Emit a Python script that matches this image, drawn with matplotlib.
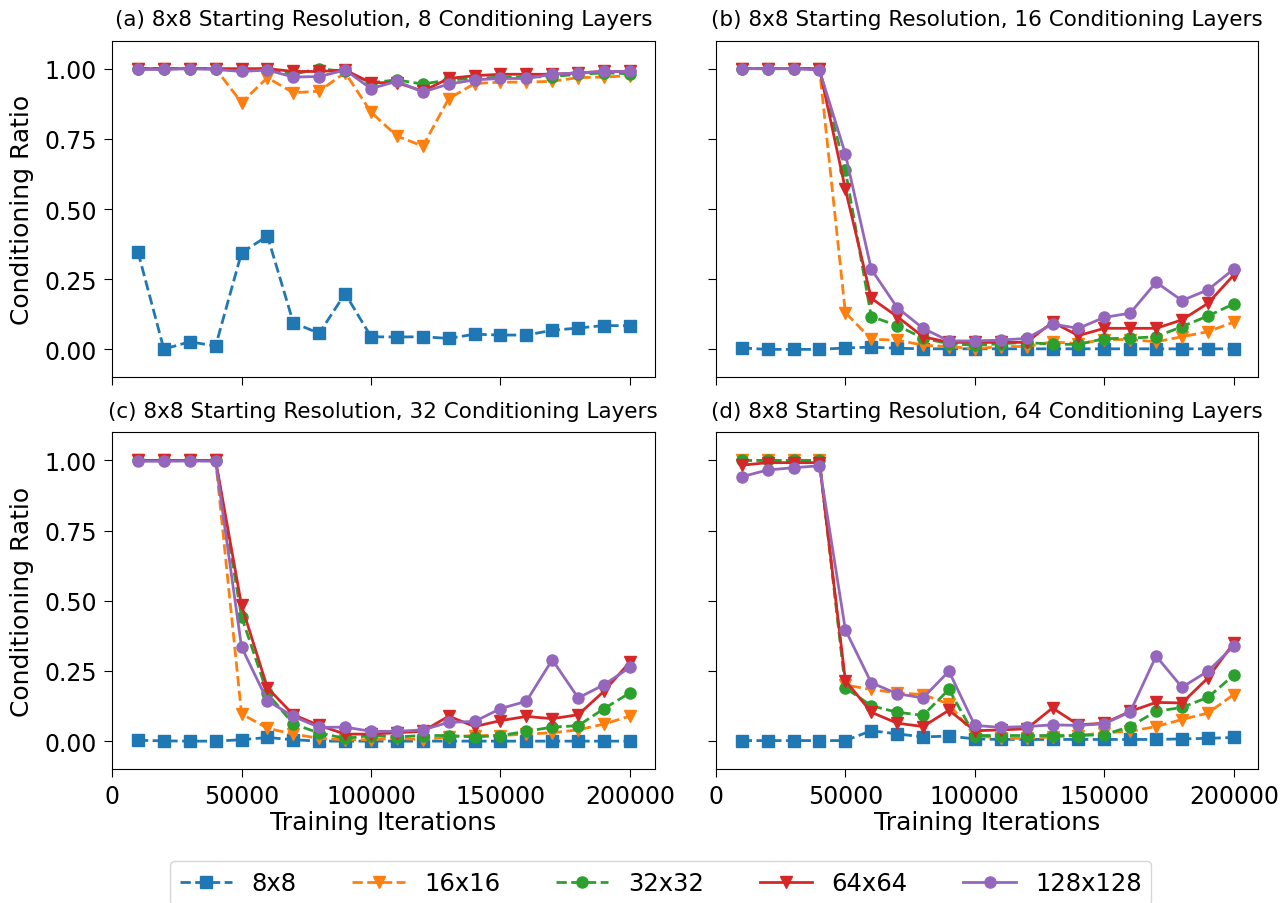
import matplotlib
matplotlib.use("Agg")
import matplotlib.pyplot as plt
import numpy as np

iterations = list(range(10000, 200001, 10000))

series_names = ["8x8", "16x16", "32x32", "64x64", "128x128"]

# (a) 8 conditioning layers
a_8 = [0.347, 0.001, 0.027, 0.012, 0.344, 0.404, 0.095, 0.057, 0.199, 0.045,
       0.044, 0.045, 0.039, 0.054, 0.051, 0.051, 0.068, 0.076, 0.085, 0.084]
a_16 = [1.0, 1.0, 1.0, 1.0, 0.879, 0.968, 0.914, 0.920, 0.986, 0.845,
        0.760, 0.724, 0.893, 0.947, 0.952, 0.952, 0.955, 0.968, 0.970, 0.975]
a_32 = [1.0, 1.0, 1.0, 1.0, 0.995, 1.0, 0.980, 1.0, 0.990, 0.950,
        0.960, 0.945, 0.960, 0.965, 0.970, 0.970, 0.972, 0.980, 0.985, 0.982]
a_64 = [1.0, 1.0, 1.0, 1.0, 1.0, 1.0, 0.990, 0.990, 0.995, 0.950,
        0.950, 0.920, 0.965, 0.975, 0.980, 0.980, 0.980, 0.985, 0.990, 0.990]
a_128 = [0.997, 0.997, 1.0, 0.997, 0.990, 0.995, 0.970, 0.972, 0.995, 0.929,
         0.955, 0.917, 0.945, 0.960, 0.965, 0.965, 0.980, 0.985, 0.990, 0.990]

# (b) 16 conditioning layers
b_8 = [0.005, 0.0, 0.0, 0.0, 0.005, 0.008, 0.004, 0.002, 0.002, 0.002,
       0.002, 0.002, 0.002, 0.002, 0.002, 0.002, 0.002, 0.002, 0.002, 0.002]
b_16 = [1.0, 1.0, 1.0, 1.0, 0.131, 0.036, 0.033, 0.015, 0.010, 0.002,
        0.010, 0.010, 0.027, 0.020, 0.035, 0.035, 0.027, 0.045, 0.063, 0.097]
b_32 = [1.0, 1.0, 1.0, 1.0, 0.640, 0.117, 0.085, 0.040, 0.020, 0.015,
        0.020, 0.025, 0.018, 0.018, 0.038, 0.040, 0.045, 0.081, 0.119, 0.162]
b_64 = [1.0, 1.0, 1.0, 1.0, 0.571, 0.182, 0.117, 0.045, 0.025, 0.025,
        0.025, 0.025, 0.097, 0.049, 0.075, 0.075, 0.075, 0.105, 0.164, 0.265]
b_128 = [1.0, 1.0, 1.0, 0.995, 0.696, 0.286, 0.149, 0.075, 0.030, 0.030,
         0.033, 0.039, 0.090, 0.075, 0.114, 0.129, 0.239, 0.174, 0.212, 0.286]

# (c) 32 conditioning layers
c_8 = [0.003, 0.001, 0.0, 0.0, 0.005, 0.013, 0.005, 0.0, 0.0, 0.0,
       0.0, 0.0, 0.0, 0.0, 0.0, 0.0, 0.0, 0.0, 0.0, 0.0]
c_16 = [1.0, 1.0, 1.0, 1.0, 0.097, 0.046, 0.025, 0.010, 0.005, 0.005,
        0.010, 0.005, 0.015, 0.020, 0.020, 0.025, 0.030, 0.040, 0.061, 0.089]
c_32 = [1.0, 1.0, 1.0, 1.0, 0.443, 0.170, 0.061, 0.029, 0.010, 0.020,
        0.015, 0.020, 0.020, 0.015, 0.020, 0.035, 0.050, 0.055, 0.116, 0.172]
c_64 = [1.0, 1.0, 1.0, 1.0, 0.484, 0.190, 0.094, 0.056, 0.025, 0.025,
        0.030, 0.035, 0.089, 0.052, 0.073, 0.088, 0.080, 0.094, 0.178, 0.282]
c_128 = [0.997, 0.997, 0.998, 0.997, 0.335, 0.144, 0.088, 0.049, 0.050, 0.035,
         0.035, 0.040, 0.067, 0.070, 0.116, 0.142, 0.290, 0.154, 0.201, 0.263]

# (d) 64 conditioning layers
d_8 = [0.002, 0.002, 0.002, 0.002, 0.002, 0.037, 0.026, 0.015, 0.018, 0.008,
       0.006, 0.006, 0.006, 0.006, 0.006, 0.006, 0.006, 0.008, 0.010, 0.013]
d_16 = [1.0, 1.0, 1.0, 1.0, 0.200, 0.184, 0.172, 0.166, 0.132, 0.020,
        0.010, 0.010, 0.015, 0.020, 0.030, 0.035, 0.052, 0.077, 0.100, 0.166]
d_32 = [1.0, 1.0, 1.0, 1.0, 0.190, 0.126, 0.103, 0.092, 0.184, 0.020,
        0.020, 0.020, 0.020, 0.020, 0.023, 0.052, 0.106, 0.120, 0.156, 0.235]
d_64 = [0.983, 0.992, 0.992, 0.992, 0.216, 0.103, 0.064, 0.052, 0.110, 0.037,
        0.040, 0.044, 0.118, 0.058, 0.064, 0.106, 0.138, 0.136, 0.225, 0.350]
d_128 = [0.942, 0.966, 0.974, 0.981, 0.397, 0.208, 0.169, 0.154, 0.249, 0.056,
         0.049, 0.052, 0.058, 0.056, 0.062, 0.104, 0.303, 0.192, 0.249, 0.339]

panels = [
    ("(a) 8x8 Starting Resolution, 8 Conditioning Layers", [a_8, a_16, a_32, a_64, a_128]),
    ("(b) 8x8 Starting Resolution, 16 Conditioning Layers", [b_8, b_16, b_32, b_64, b_128]),
    ("(c) 8x8 Starting Resolution, 32 Conditioning Layers", [c_8, c_16, c_32, c_64, c_128]),
    ("(d) 8x8 Starting Resolution, 64 Conditioning Layers", [d_8, d_16, d_32, d_64, d_128]),
]

colors = ["#1f77b4", "#ff7f0e", "#2ca02c", "#d62728", "#9467bd"]
markers = ["s", "v", "o", "v", "o"]
styles = ["--", "--", "--", "-", "-"]

fig, axes = plt.subplots(2, 2, figsize=(12.88, 9.04), dpi=100, sharex=True, sharey=True)
fig.subplots_adjust(left=0.087, right=0.977, top=0.954, bottom=0.148, wspace=0.113, hspace=0.163)

handles = []
for ax, (title, data) in zip(axes.flat, panels):
    hs = []
    for name, vals, c, m, ls in zip(series_names, data, colors, markers, styles):
        h, = ax.plot(iterations, vals, linestyle=ls, marker=m, color=c, label=name,
                     linewidth=2, markersize=8)
        hs.append(h)
    handles = hs
    ax.set_title(title, fontsize=15.5, loc="center", pad=11)
    ax.tick_params(labelsize=17, length=6, pad=5)
ax0 = axes[0, 0]
ax0.set_ylim(-0.1, 1.1)
ax0.set_yticks([0.0, 0.25, 0.5, 0.75, 1.0])
ax0.set_xticks([0, 50000, 100000, 150000, 200000])
for ax in axes[:, 0]:
    ax.set_ylabel("Conditioning Ratio", fontsize=18, labelpad=7)
for ax in axes[1, :]:
    ax.set_xlabel("Training Iterations", fontsize=18, labelpad=1)

fig.legend(handles, series_names, loc="center", ncol=5, fontsize=17.5,
           bbox_to_anchor=(0.513, 0.0221), handlelength=2.15, columnspacing=2.3)

fig.savefig("out.png", dpi=100)
